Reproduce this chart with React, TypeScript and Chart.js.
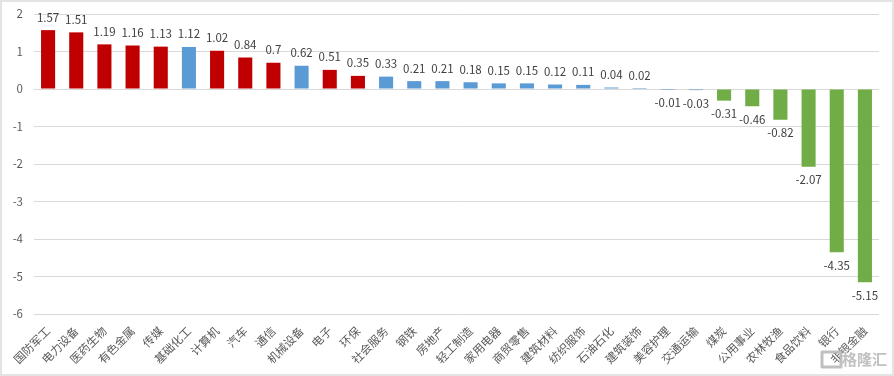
import React, { useEffect, useRef } from "react";
import { Chart, registerables } from "chart.js";

Chart.register(...registerables);

const categories = ["国防军工","电力设备","医药生物","有色金属","传媒","基础化工","计算机","汽车","通信","机械设备","电子","环保","社会服务","钢铁","房地产","轻工制造","家用电器","商贸零售","建筑材料","纺织服饰","石油石化","建筑装饰","美容护理","交通运输","煤炭","公用事业","农林牧渔","食品饮料","银行","非银金融"];
const values = [1.57,1.51,1.19,1.16,1.13,1.12,1.02,0.84,0.7,0.62,0.51,0.35,0.33,0.21,0.21,0.18,0.15,0.15,0.12,0.11,0.04,0.02,-0.01,-0.03,-0.31,-0.46,-0.82,-2.07,-4.35,-5.15];
const blueCategories = ["基础化工","机械设备","社会服务","钢铁","房地产","轻工制造","家用电器","商贸零售","建筑材料","纺织服饰","石油石化","建筑装饰","美容护理","交通运输"];
const RED = "#C00000";
const BLUE = "#5B9BD5";
const GREEN = "#70AD47";
const FONT = '"Noto Sans CJK SC", "Open Sans", sans-serif';

const colors = values.map((v, i) => blueCategories.includes(categories[i]) ? BLUE : v >= 0 ? RED : GREEN);

const valueLabels = {
  id: "valueLabels",
  afterDatasetsDraw(chart: any) {
    const { ctx } = chart;
    const scale = chart.scales.y;
    const meta = chart.getDatasetMeta(0);
    ctx.save();
    ctx.font = `11.5px ${FONT}`;
    ctx.fillStyle = "#404040";
    ctx.textAlign = "center";
    ctx.textBaseline = "middle";
    meta.data.forEach((bar: any, i: number) => {
      const up = values[i] >= 0;
      ctx.fillText(String(values[i]), bar.x, scale.getPixelForValue(values[i]) + (up ? -13 : 13));
    });
    ctx.restore();
  },
};

const watermark = {
  id: "watermark",
  afterDraw(chart: any) {
    const { ctx, width } = chart;
    ctx.save();
    const right = width - 5;
    const cy = 357;
    ctx.font = `bold 15px ${FONT}`;
    ctx.textAlign = "right";
    ctx.textBaseline = "middle";
    ctx.lineJoin = "round";
    ctx.lineWidth = 2;
    ctx.strokeStyle = "rgba(255,255,255,0.8)";
    ctx.strokeText("格隆汇", right, cy);
    ctx.fillStyle = "rgba(185,185,185,0.9)";
    ctx.fillText("格隆汇", right, cy);
    ctx.strokeStyle = "rgba(185,185,185,0.9)";
    ctx.lineWidth = 3;
    ctx.strokeRect(right - 65, cy - 7, 19, 15);
    ctx.restore();
  },
};

export default function App() {
  const ref = useRef<HTMLCanvasElement>(null);
  useEffect(() => {
    document.body.style.margin = "0";
    const chart = new Chart(ref.current!, {
      type: "bar",
      data: {
        labels: categories,
        datasets: [{ data: values, backgroundColor: colors, categoryPercentage: 1, barPercentage: 0.5, minBarLength: 1 }],
      },
      options: {
        animation: false,
        responsive: false,
        layout: { padding: { left: 0, right: 13, top: 12, bottom: 0 } },
        plugins: { legend: { display: false }, tooltip: { enabled: false } },
        scales: {
          x: {
            afterFit(axis: any) { axis.height = 60; axis.paddingLeft = 0; axis.paddingRight = 0; },
            grid: { display: false },
            border: { display: false },
            ticks: { minRotation: 45, maxRotation: 45, autoSkip: false, font: { family: FONT, size: 11.5 }, color: "#595959", padding: 2 },
          },
          y: {
            min: -6,
            max: 2,
            afterFit(axis: any) { axis.width = 32; axis.paddingTop = 0; axis.paddingBottom = 0; },
            grid: { color: "#D9D9D9", drawTicks: false },
            border: { display: false },
            ticks: { stepSize: 1, font: { family: FONT, size: 11.5 }, color: "#595959", padding: 11 },
          },
        },
      },
      plugins: [valueLabels, watermark],
    });
    return () => chart.destroy();
  }, []);
  return (
    <div style={{ width: 894, height: 376, boxSizing: "border-box", border: "2px solid #E4E4E4", position: "relative", overflow: "hidden", background: "#fff" }}>
      <canvas ref={ref} width={890} height={372} style={{ display: "block" }} />
    </div>
  );
}
